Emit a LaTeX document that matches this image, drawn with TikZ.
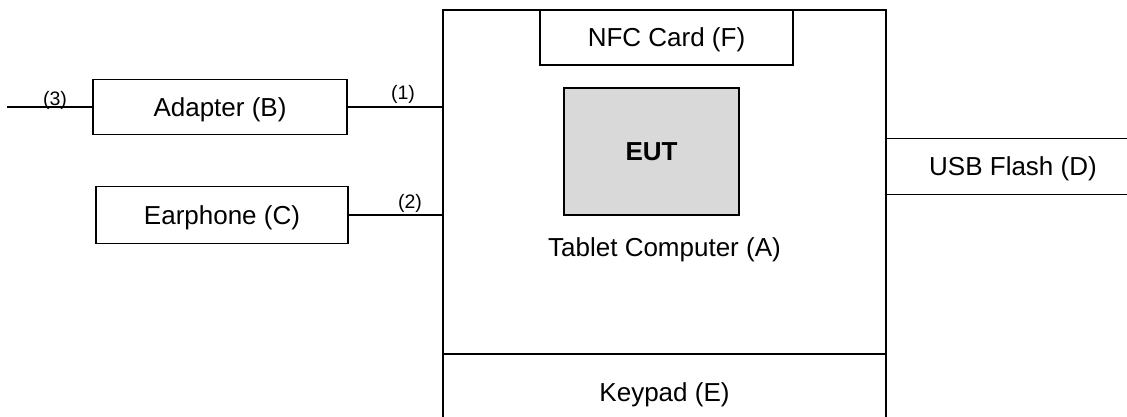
\documentclass[tikz,border=0pt]{standalone}
\usepackage{fontspec}
\setmainfont{Liberation Sans}
\definecolor{eutgray}{HTML}{D9D9D9}
\begin{document}
\begin{tikzpicture}[x=1pt,y=-1pt,
  box/.style={draw, line width=1.5pt, inner sep=0pt, text height=18.6pt, text depth=0pt, font=\fontsize{26}{30}\selectfont},
  conn/.style={line width=1.5pt},
  lbl/.style={inner sep=0pt, font=\fontsize{19.5}{22}\selectfont},
  txt/.style={inner sep=0pt, text height=18.6pt, text depth=0pt, font=\fontsize{26}{30}\selectfont}]
\useasboundingbox (0,0) rectangle (1127,416);
% main tablet box (bottom runs past the page edge)
\node[box, minimum width=443pt, minimum height=420pt] (A) at (664.5,220) {};
\node[txt] (Alabel) at (664.5,247) {Tablet Computer (A)};
\node[box, minimum width=443pt, minimum height=76pt] (E) at (664.5,392) {Keypad (E)};
\node[box, fill=white, minimum width=253pt, minimum height=55pt] (F) at (666.5,37.5) {NFC Card (F)};
\node[box, fill=eutgray, minimum width=175pt, minimum height=127pt] (EUT) at (651.5,151.5) {\bfseries EUT};
\node[box, minimum width=254pt, minimum height=56pt] (D) at (1013,166.5) {USB Flash (D)};
\node[box, minimum width=254pt, minimum height=55pt] (B) at (220,107) {Adapter (B)};
\node[box, minimum width=252pt, minimum height=57pt] (C) at (222,215) {Earphone (C)};
\coordinate (s3) at (7,107);
\draw[conn] (s3) -- (B.west);
\draw[conn] (B.east) -- (B.east -| A.west);
\draw[conn] (C.east) -- (C.east -| A.west);
\node[lbl] (l3) at (55,100) {(3)};
\node[lbl] (l1) at (403,94) {(1)};
\node[lbl] (l2) at (410,203) {(2)};
\end{tikzpicture}
\end{document}
